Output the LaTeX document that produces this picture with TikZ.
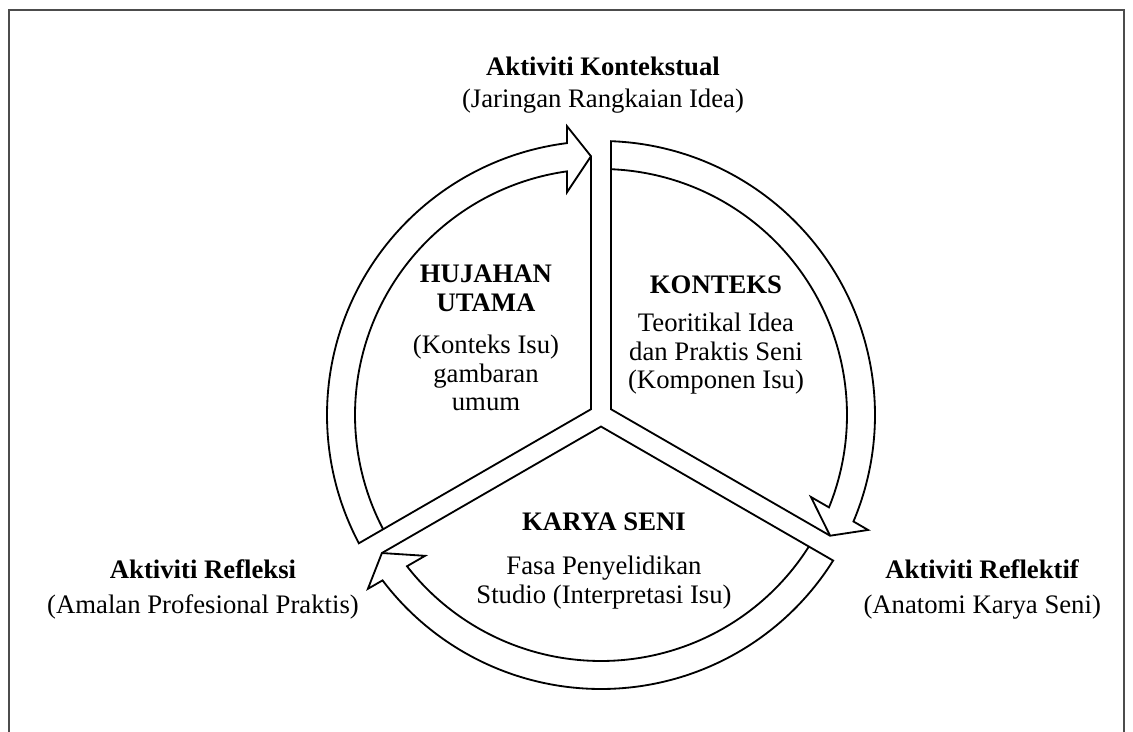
\documentclass[tikz,border=0pt]{standalone}
\usepackage{fontspec}
\setmainfont{Liberation Serif}
\begin{document}
\begin{tikzpicture}[seg/.style={line width=1.3pt,line join=miter},
  lbl/.style={align=center,font=\fontsize{19}{20.5}\selectfont}]
\useasboundingbox (-15.025,-7.9) rectangle (13.3,10.375);
%\draw[step=1cm,gray,very thin] (-15,-8) grid (13,10);
\draw[gray!60!black,line width=1pt] (-14.8,-8.5) -- (-14.8,10.125) -- (13.075,10.125) -- (13.075,-8.5);
% three arrow sectors, the same shape turned by 120 degrees
\foreach \rot in {0,-120,-240}{
\begin{scope}[rotate=\rot]
\draw[seg] (0.25,0.1443) -- (87.91:6.85) arc[start angle=87.91,end angle=-22.87,radius=6.85]
  -- (6.677,-2.874) -- (5.727,-3.018) -- cycle;
\draw[seg] (87.67:6.15) arc[start angle=87.67,end angle=-22.06,radius=6.15]
  -- (5.248,-2.049) -- (5.727,-3.018);
\end{scope}}
\node[lbl] (ctx) at (0.05,8.24) {\textbf{Aktiviti Kontekstual}\\[2pt](Jaringan Rangkaian Idea)};
\node[lbl] (rfx) at (-9.95,-4.36) {\textbf{Aktiviti Refleksi}\\[4pt](Amalan Profesional Praktis)};
\node[lbl] (rft) at (9.53,-4.36) {\textbf{Aktiviti Reflektif}\\[4pt](Anatomi Karya Seni)};
\node[lbl] (huj) at (-2.875,1.92) {\textbf{HUJAHAN}\\\textbf{UTAMA}\\[9pt](Konteks Isu)\\gambaran\\umum};
\node[lbl] (kon) at (2.875,1.99) {\textbf{KONTEKS}\\[6pt]Teoritikal Idea\\dan Praktis Seni\\(Komponen Isu)};
\node[lbl] (kar) at (0.075,-3.64) {\textbf{KARYA SENI}\\[11pt]Fasa Penyelidikan\\Studio (Interpretasi Isu)};
\end{tikzpicture}
\end{document}
